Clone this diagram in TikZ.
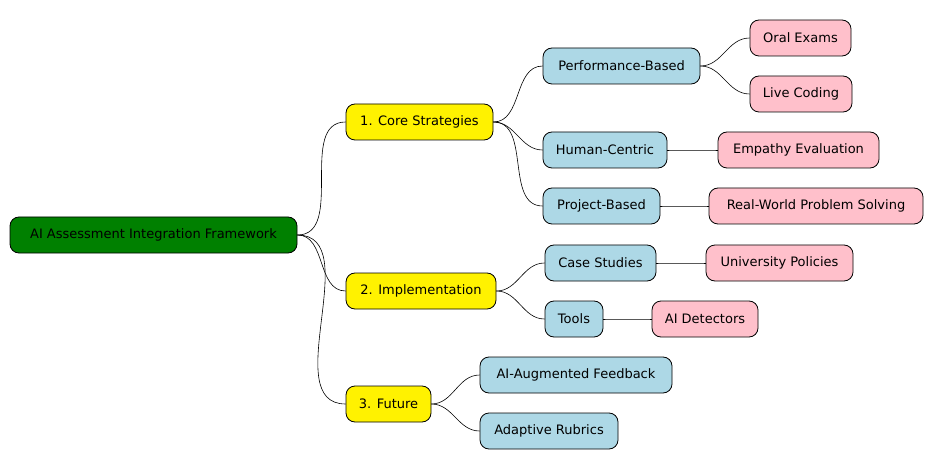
\documentclass[tikz,border=0pt]{standalone}
\usepackage{fontspec}
\setmainfont{DejaVu Sans}
\begin{document}
\begin{tikzpicture}[x=1pt,y=-1pt,
 box/.style={draw=black,line width=0.8pt,rounded corners=9pt,minimum height=36pt,inner sep=0pt,font=\fontsize{13}{15}\selectfont,text=black},
 rootbox/.style={box,fill={rgb,255:red,0;green,128;blue,0}},
 ybox/.style={box,fill=yellow},
 bbox/.style={box,fill={rgb,255:red,173;green,216;blue,230}},
 pbox/.style={box,fill={rgb,255:red,255;green,192;blue,203}},
 conn/.style={draw=black,line width=0.6pt}]
\useasboundingbox (0,0) rectangle (944,470);
\node[rootbox,minimum width=287pt] (root) at (153.5,235) {AI Assessment Integration Framework};
\node[ybox,minimum width=147pt] (cs) at (419.5,122) {1. Core Strategies};
\node[ybox,minimum width=150pt] (im) at (421,291) {2. Implementation};
\node[ybox,minimum width=85pt] (fu) at (388.5,404) {3. Future};
\node[bbox,minimum width=157pt] (pb) at (621.5,66) {Performance-Based};
\node[bbox,minimum width=124pt] (hc) at (605,150) {Human-Centric};
\node[bbox,minimum width=117pt] (pj) at (601.5,206) {Project-Based};
\node[bbox,minimum width=111pt] (cst) at (600.5,263) {Case Studies};
\node[bbox,minimum width=58pt] (to) at (574,319) {Tools};
\node[bbox,minimum width=192pt] (af) at (576,375) {AI-Augmented Feedback};
\node[bbox,minimum width=138pt] (ar) at (549,431) {Adaptive Rubrics};
\node[pbox,minimum width=101pt] (oe) at (800.5,38) {Oral Exams};
\node[pbox,minimum width=102pt] (lc) at (801,94) {Live Coding};
\node[pbox,minimum width=161pt] (ee) at (798.5,150) {Empathy Evaluation};
\node[pbox,minimum width=214pt] (rw) at (816,206) {Real-World Problem Solving};
\node[pbox,minimum width=147pt] (up) at (779.5,263) {University Policies};
\node[pbox,minimum width=106pt] (ad) at (705,319) {AI Detectors};
\foreach \a/\b in {root/cs,root/im,root/fu,cs/pb,cs/hc,cs/pj,im/cst,im/to,fu/af,fu/ar,pb/oe,pb/lc,hc/ee,pj/rw,cst/up,to/ad}
  \draw[conn] (\a.east) to[out=0,in=180] (\b.west);
\end{tikzpicture}
\end{document}
